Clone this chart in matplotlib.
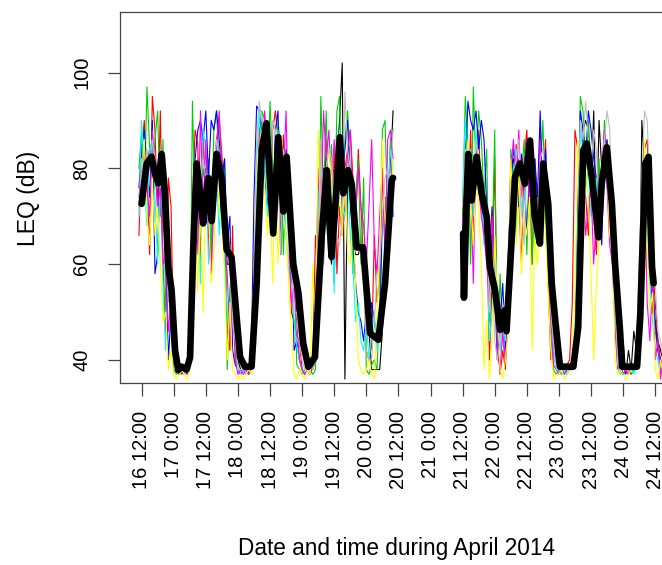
import matplotlib
matplotlib.use("Agg")
import matplotlib.pyplot as plt

plt.rcParams["font.family"] = ["Liberation Sans", "DejaVu Sans"]

# hours since 16 April 2014 00:00 (hourly LEQ)
hours_a = list(range(11, 107))   # 16 Apr 11:00 -> 20 Apr 10:00
hours_b = list(range(132, 208))  # 21 Apr 12:00 -> 24 Apr 15:00

# individual sensors, first period (4 rows of 24 h) and second period
red_a = ([66, 84, 90, 78, 62, 95, 88, 70, 92, 60, 44, 78, 72, 42, 39, 38, 37, 38, 37, 41, 72, 88, 85, 60]
         + [88, 70, 78, 58, 80, 86, 90, 83, 70, 46, 42, 68, 40, 38, 37, 38, 37, 38, 40, 62, 58, 88, 90, 86]
         + [84, 70, 88, 92, 86, 62, 87, 76, 66, 50, 48, 45, 44, 38, 37, 38, 37, 40, 66, 58, 85, 60, 86, 72]
         + [64, 84, 58, 72, 66, 72, 84, 88, 78, 68, 84, 72, 60, 42, 40, 43, 66, 52, 58, 80, 62, 70, 84, 75])
red_b = ([64, 86, 70, 88, 66, 82, 88, 72, 66, 70, 40, 55, 82, 45, 37, 42, 38, 55, 80, 72, 85, 74, 60, 82]
         + [88, 74, 60, 82, 66, 88, 74, 86, 56, 40, 42, 38, 38, 37, 38, 39, 40, 52, 88, 84, 80, 76, 74, 66]
         + [82, 70, 62, 80, 74, 88, 80, 70, 62, 54, 44, 38, 37, 38, 38, 37, 38, 41, 52, 68, 84, 86, 72, 60]
         + [52, 44, 40, 38])

green_a = ([80, 88, 74, 97, 84, 78, 86, 92, 70, 86, 50, 66, 48, 38, 37, 38, 38, 37, 38, 38, 94, 70, 82, 66]
           + [80, 76, 82, 62, 88, 92, 80, 76, 82, 38, 55, 60, 42, 38, 37, 38, 38, 37, 38, 48, 82, 60, 92, 90]
           + [76, 94, 80, 72, 90, 84, 62, 80, 70, 56, 62, 39, 38, 37, 38, 38, 38, 37, 38, 56, 95, 74, 92, 68]
           + [85, 68, 92, 95, 70, 86, 92, 80, 58, 74, 82, 60, 78, 38, 37, 39, 40, 38, 52, 88, 90, 70, 86, 88])
green_b = ([70, 95, 84, 60, 97, 80, 92, 86, 74, 84, 48, 62, 88, 40, 58, 44, 40, 48, 84, 76, 66, 82, 78, 86]
           + [62, 84, 60, 80, 72, 78, 90, 70, 60, 45, 38, 37, 38, 38, 37, 38, 38, 39, 42, 64, 95, 92, 80, 90]
           + [80, 70, 74, 82, 68, 90, 78, 74, 68, 50, 39, 38, 37, 38, 38, 37, 38, 40, 58, 72, 80, 78, 66, 58]
           + [46, 42, 38, 37])

blue_a = ([76, 84, 88, 80, 74, 90, 58, 62, 84, 72, 62, 40, 50, 44, 38, 37, 38, 37, 39, 45, 66, 82, 88, 90]
          + [86, 92, 78, 90, 88, 92, 86, 78, 82, 64, 70, 42, 39, 38, 37, 38, 39, 37, 40, 74, 93, 92, 86, 78]
          + [72, 80, 68, 88, 92, 62, 82, 80, 68, 66, 42, 44, 40, 38, 37, 38, 37, 39, 48, 78, 70, 66, 82, 64]
          + [74, 56, 82, 76, 80, 84, 90, 74, 66, 56, 50, 48, 44, 50, 46, 52, 48, 44, 46, 70, 74, 58, 82, 70])
blue_b = ([66, 80, 94, 90, 88, 92, 84, 90, 86, 72, 60, 72, 54, 40, 48, 56, 42, 60, 76, 84, 80, 72, 83, 78]
          + [66, 78, 70, 82, 74, 92, 72, 84, 70, 55, 44, 40, 38, 37, 38, 37, 38, 38, 44, 70, 92, 88, 82, 92]
          + [88, 82, 78, 72, 64, 84, 86, 78, 72, 60, 44, 38, 37, 38, 37, 38, 38, 39, 42, 74, 78, 70, 62, 56]
          + [48, 42, 40, 38])

cyan_a = ([70, 90, 78, 68, 84, 86, 74, 60, 80, 56, 42, 60, 50, 46, 38, 37, 38, 37, 39, 42, 58, 66, 74, 56]
          + [88, 84, 60, 74, 70, 80, 66, 78, 60, 50, 45, 62, 48, 38, 37, 38, 37, 38, 40, 40, 82, 92, 80, 84]
          + [70, 78, 66, 70, 88, 74, 78, 66, 58, 60, 48, 43, 40, 38, 37, 38, 37, 40, 52, 74, 80, 78, 70, 62]
          + [80, 54, 84, 88, 72, 70, 80, 66, 60, 48, 52, 44, 42, 48, 40, 46, 50, 42, 48, 46, 68, 74, 84, 80])
cyan_b = ([74, 90, 76, 84, 70, 88, 80, 74, 64, 66, 44, 50, 66, 50, 42, 48, 44, 62, 72, 80, 84, 78, 70, 74]
          + [80, 86, 78, 64, 70, 80, 72, 80, 64, 52, 42, 38, 38, 37, 38, 37, 39, 38, 46, 66, 90, 82, 76, 80]
          + [70, 74, 78, 66, 80, 82, 76, 70, 74, 48, 38, 37, 39, 38, 37, 38, 37, 40, 44, 76, 82, 68, 56, 48]
          + [42, 40, 37, 38])

magenta_a = ([74, 80, 84, 76, 70, 88, 80, 72, 76, 60, 62, 46, 52, 40, 38, 37, 38, 38, 37, 39, 54, 72, 62, 92]
             + [70, 86, 66, 58, 72, 84, 92, 80, 66, 58, 44, 52, 40, 37, 38, 37, 38, 37, 39, 50, 64, 76, 80, 92]
             + [84, 70, 78, 66, 84, 70, 78, 92, 66, 52, 55, 48, 40, 38, 37, 38, 37, 39, 48, 80, 70, 92, 82, 88]
             + [76, 86, 78, 82, 72, 80, 84, 88, 74, 70, 80, 72, 68, 60, 72, 86, 64, 58, 70, 80, 62, 86, 88, 82])
magenta_b = ([68, 76, 82, 78, 56, 84, 76, 70, 66, 60, 52, 70, 56, 42, 38, 46, 40, 50, 80, 86, 76, 88, 74, 80]
             + [86, 72, 80, 74, 68, 86, 72, 78, 60, 48, 39, 38, 37, 38, 37, 38, 39, 40, 44, 58, 84, 78, 66, 72]
             + [76, 60, 70, 66, 80, 88, 76, 64, 60, 46, 38, 40, 37, 38, 37, 39, 38, 42, 46, 62, 76, 52, 44, 58]
             + [40, 44, 36, 42])

yellow_a = ([72, 78, 86, 70, 64, 78, 66, 72, 60, 48, 50, 38, 42, 37, 36, 37, 38, 37, 36, 38, 62, 76, 54, 72]
            + [50, 78, 72, 56, 62, 80, 72, 68, 58, 40, 52, 38, 37, 36, 37, 36, 37, 38, 37, 58, 80, 84, 88, 76]
            + [66, 74, 56, 80, 60, 76, 70, 66, 56, 46, 37, 36, 38, 37, 36, 38, 37, 60, 44, 88, 66, 76, 80, 84]
            + [78, 62, 70, 74, 66, 80, 62, 60, 70, 56, 40, 38, 37, 38, 40, 37, 36, 50, 62, 86, 70, 60, 72, 82])
yellow_b = ([62, 72, 86, 74, 64, 78, 72, 60, 38, 48, 36, 44, 66, 52, 38, 36, 40, 46, 82, 70, 64, 80, 58, 70]
            + [66, 74, 42, 66, 60, 70, 74, 66, 54, 42, 36, 37, 37, 38, 36, 37, 38, 40, 54, 86, 74, 60, 80, 74]
            + [58, 40, 56, 64, 70, 86, 80, 66, 64, 40, 37, 38, 37, 36, 37, 38, 38, 40, 50, 70, 86, 64, 50, 54]
            + [38, 36, 40, 37])

gray_a = ([70, 82, 76, 84, 80, 86, 82, 78, 84, 80, 70, 52, 60, 48, 40, 38, 38, 38, 39, 38, 60, 80, 72, 78]
          + [82, 78, 74, 72, 80, 86, 82, 78, 74, 62, 64, 48, 44, 38, 38, 38, 39, 38, 40, 58, 86, 94, 90, 88]
          + [80, 72, 90, 88, 80, 62, 84, 80, 60, 60, 50, 50, 44, 40, 38, 38, 39, 38, 40, 58, 86, 60, 80, 84]
          + [82, 74, 66, 64, 70, 96, 84, 80, 74, 66, 64, 62, 60, 42, 40, 40, 48, 58, 60, 70, 78, 80, 78, 88])
gray_b = ([72, 84, 78, 82, 74, 86, 80, 76, 74, 70, 50, 62, 44, 40, 44, 52, 48, 58, 74, 78, 82, 86, 72, 64]
          + [82, 86, 80, 72, 68, 82, 84, 78, 68, 50, 44, 38, 38, 39, 38, 38, 38, 39, 42, 60, 90, 86, 94, 86]
          + [80, 88, 84, 72, 70, 86, 92, 88, 72, 54, 39, 38, 38, 38, 38, 39, 38, 44, 60, 78, 92, 90, 76, 62]
          + [56, 46, 44, 40])

black_a = ([72, 78, 82, 80, 84, 80, 78, 74, 84, 72, 66, 58, 56, 48, 40, 38, 38, 38, 38, 40, 62, 78, 70, 76]
           + [74, 80, 72, 70, 74, 80, 78, 74, 68, 60, 60, 56, 50, 40, 38, 38, 38, 38, 38, 46, 56, 84, 88, 82]
           + [88, 72, 68, 80, 86, 74, 70, 84, 76, 62, 58, 50, 50, 42, 40, 38, 38, 38, 40, 52, 62, 80, 80, 64]
           + [60, 70, 82, 90, 102, 36, 80, 74, 64, 62, 62, 64, 58, 52, 46, 38, 38, 38, 38, 46, 56, 64, 80, 92])
black_b = ([70, 84, 76, 82, 72, 80, 76, 72, 70, 68, 58, 52, 52, 46, 48, 50, 46, 52, 70, 82, 80, 78, 80, 76]
           + [78, 86, 84, 72, 66, 70, 78, 76, 72, 54, 46, 40, 38, 38, 38, 38, 38, 38, 42, 46, 56, 88, 90, 88]
           + [74, 92, 66, 90, 80, 84, 80, 76, 68, 62, 44, 40, 44, 37, 42, 38, 46, 42, 44, 90, 80, 72, 60, 50]
           + [48, 44, 42, 40])

sensors = [
    ("black", black_a, black_b),
    ("red", red_a, red_b),
    ("#00CD00", green_a, green_b),
    ("blue", blue_a, blue_b),
    ("cyan", cyan_a, cyan_b),
    ("magenta", magenta_a, magenta_b),
    ("yellow", yellow_a, yellow_b),
    ("#BEBEBE", gray_a, gray_b),
]

# mean over all sensors
mean_hours_a = [12.0, 13.9, 15.7, 17.0, 18.2, 19.5, 20.7, 22.0, 23.2, 24.5, 25.7, 27.0, 28.8, 30.1,
                31.3, 32.6, 33.8, 35.0, 36.9, 38.2, 40.0, 41.9, 43.8, 45.6, 47.5, 48.8, 50.6, 53.1,
                55.0, 56.9, 58.7, 61.2, 63.1, 65.0, 66.2, 68.7, 70.6, 72.4, 74.3, 76.8, 79.3, 81.2,
                83.0, 84.3, 86.1, 87.4, 89.2, 90.5, 92.4, 94.8, 97.4, 100.5, 103.0, 105.5, 106.0]
mean_leq_a = [72.6, 81.0, 82.4, 79.0, 76.9, 83.0, 74.8, 59.4, 54.6, 42.0, 37.9, 38.6, 38.0, 40.5,
              63.0, 81.0, 74.8, 68.5, 78.0, 69.0, 83.0, 78.0, 63.0, 61.5, 49.0, 40.6, 38.6, 38.6,
              56.0, 83.8, 89.4, 66.4, 86.5, 71.0, 82.4, 60.0, 54.0, 43.5, 38.6, 40.6, 65.6, 79.6,
              61.5, 71.2, 86.5, 74.8, 79.6, 76.8, 63.5, 63.5, 45.6, 44.2, 56.0, 77.5, 78.0]
mean_hours_b = [132.2, 132.5, 133.3, 134.1, 135.4, 137.2, 139.1, 141.0, 142.2, 144.1, 146.0, 147.8,
                148.4, 149.7, 151.6, 153.4, 155.3, 157.2, 159.0, 160.9, 162.1, 164.0, 165.3, 166.5,
                168.4, 173.4, 175.2, 177.1, 178.4, 180.3, 182.8, 184.0, 185.9, 187.8, 189.0, 190.9,
                191.6, 197.2, 198.4, 200.3, 201.5, 202.8, 203.4]
mean_leq_b = [66.4, 53.0, 70.0, 83.0, 73.3, 82.4, 74.8, 69.9, 59.4, 54.6, 46.3, 50.4,
              46.0, 58.8, 78.2, 81.0, 76.8, 85.8, 69.9, 64.3, 81.0, 72.6, 56.0, 49.0,
              38.6, 38.6, 46.8, 83.7, 85.2, 78.2, 65.6, 76.8, 84.4, 72.6, 60.0, 45.6,
              38.6, 38.6, 49.0, 81.0, 82.4, 59.4, 56.0]

tick_hours = list(range(12, 205, 12))
tick_labels = ["16 12:00", "17 0:00", "17 12:00", "18 0:00", "18 12:00", "19 0:00",
               "19 12:00", "20 0:00", "20 12:00", "21 0:00", "21 12:00", "22 0:00",
               "22 12:00", "23 0:00", "23 12:00", "24 0:00", "24 12:00"]

fig = plt.figure(figsize=(6.62, 5.65), dpi=100)
ax = fig.add_axes([0.182, 0.3216, 0.8316, 0.6577])

for color, leq_a, leq_b in sensors:
    ax.plot(hours_a, leq_a, color=color, lw=0.8)
    ax.plot(hours_b, leq_b, color=color, lw=0.8)

ax.plot(mean_hours_a, mean_leq_a, color="black", lw=4.8, solid_capstyle="round", solid_joinstyle="round")
ax.plot(mean_hours_b, mean_leq_b, color="black", lw=4.8, solid_capstyle="round", solid_joinstyle="round")

ax.set_xlim(4.1, 209.9)
ax.set_ylim(35.13, 112.7)

ax.set_xticks(tick_hours)
ax.set_xticklabels(tick_labels, rotation=90, ha="center", va="top")
ax.set_yticks([40, 60, 80, 100])
ax.set_yticklabels(["40", "60", "80", "100"], rotation=90, va="center", ha="right")
ax.tick_params(axis="both", length=9, width=0.9, color="#444444", labelsize=14.5)
ax.tick_params(axis="x", pad=11)
ax.tick_params(axis="y", pad=12)

for side in ax.spines.values():
    side.set_color("#444444")
    side.set_linewidth(0.9)

fig.text(28 / 662, 1 - 198 / 565, "LEQ (dB)", rotation=90, ha="center", va="center", fontsize=16.5)
fig.text(396 / 662, 1 - 549 / 565, "Date and time during April 2014", ha="center", va="center", fontsize=16.3)

fig.savefig("out.png", dpi=100)
